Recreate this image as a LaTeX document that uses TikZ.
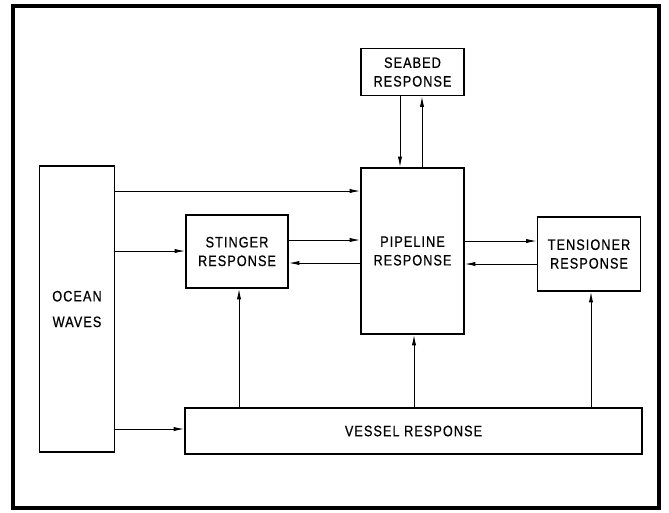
\documentclass[tikz,border=0pt]{standalone}
\usepackage{fontspec}
\setmainfont{Liberation Sans}[FakeStretch=0.84,LetterSpace=7,FakeBold=0.6]
\usetikzlibrary{arrows.meta}

\begin{document}
\begin{tikzpicture}[x=0.02cm,y=-0.02cm,
  box/.style={draw,line width=0.9pt,align=center,inner sep=0pt,
    font=\fontsize{8.6}{10.6}\selectfont},
  arr/.style={line width=0.55pt,-{Latex[length=6pt,width=2.4pt]}}]
\useasboundingbox (0,0) rectangle (669,512);
\draw[line width=2.6pt] (13,6) rectangle (659,508);

\node[box,minimum width=2.06cm,minimum height=0.94cm] (seabed) at (412.5,72) {SEABED\\RESPONSE};
\node[box,minimum width=2.06cm,minimum height=3.32cm] (pipeline) at (412.5,251) {PIPELINE\\RESPONSE};
\node[box,minimum width=1.5cm,minimum height=5.72cm] (ocean) at (77,309) {OCEAN\\[4pt]WAVES};
\node[box,minimum width=2.04cm,minimum height=1.46cm] (stinger) at (237,251.5) {STINGER\\RESPONSE};
\node[box,minimum width=2.06cm,minimum height=1.48cm] (tensioner) at (589,254) {TENSIONER\\RESPONSE};
\node[box,minimum width=9.14cm,minimum height=0.92cm] (vessel) at (413.5,431) {VESSEL RESPONSE};

\draw[arr] (seabed.south -| 400,0) -- (pipeline.north -| 400,0);
\draw[arr] (pipeline.north -| 422,0) -- (seabed.south -| 422,0);

\draw[arr] (ocean.east |- 0,191) -- (pipeline.west |- 0,191);
\draw[arr] (ocean.east |- 0,251) -- (stinger.west |- 0,251);
\draw[arr] (ocean.east |- 0,429) -- (vessel.west |- 0,429);

\draw[arr] (stinger.east |- 0,240) -- (pipeline.west |- 0,240);
\draw[arr] (pipeline.west |- 0,263) -- (stinger.east |- 0,263);
\draw[arr] (pipeline.east |- 0,241) -- (tensioner.west |- 0,241);
\draw[arr] (tensioner.west |- 0,264) -- (pipeline.east |- 0,264);

\draw[arr] (vessel.north -| 239,0) -- (stinger.south -| 239,0);
\draw[arr] (vessel.north -| 414,0) -- (pipeline.south -| 414,0);
\draw[arr] (vessel.north -| 591,0) -- (tensioner.south -| 591,0);
\end{tikzpicture}
\end{document}
